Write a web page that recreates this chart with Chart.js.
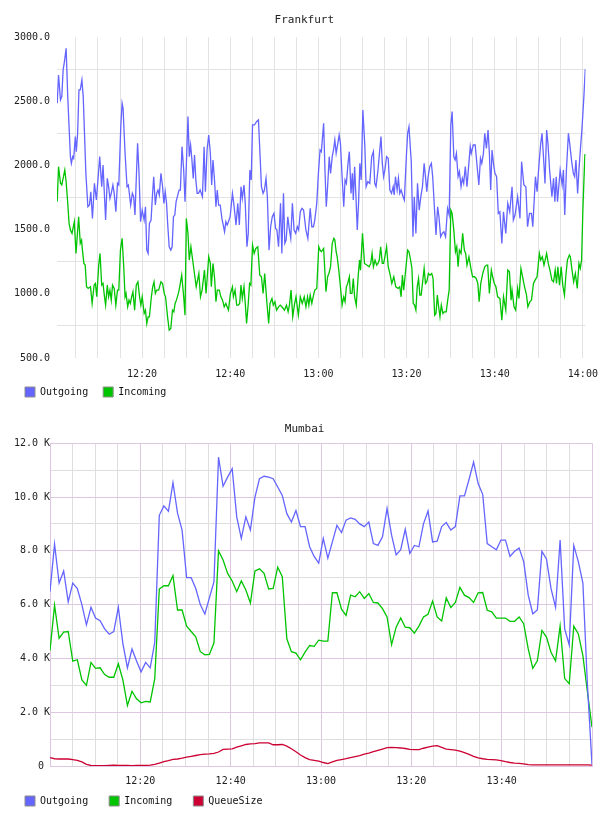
<!DOCTYPE html>
<html><head><meta charset="utf-8">
<script src="https://cdn.jsdelivr.net/npm/chart.js@4/dist/chart.umd.min.js"></script>
<style>
html,body{margin:0;padding:0;background:#fff;}
#w1{position:absolute;left:0;top:0;width:608px;height:407px;}
#w2{position:absolute;left:0;top:407px;width:608px;height:409px;}
</style></head><body>
<div id="w1"><canvas id="c1"></canvas></div>
<div id="w2"><canvas id="c2"></canvas></div>
<script>
// ---- Frankfurt: [minutes after 12:00, value]
const frankfurtOutgoing = [[0.75,2485],[1.05,2706],[1.49,2511],[1.79,2537],[2.09,2745],[2.39,2810],[2.77,2914],[3.14,2537],[3.74,2069],[3.96,2017],[4.26,2069],[4.48,2056],[4.86,2225],[5.08,2108],[5.38,2251],[5.68,2589],[5.98,2589],[6.35,2667],[6.65,2537],[7.25,1939],[7.70,1679],[8.07,1692],[8.37,1796],[8.74,1588],[9.19,1861],[9.64,1731],[10.39,2069],[10.84,1835],[11.14,2004],[11.73,1575],[12.11,1900],[12.41,1835],[12.71,1744],[13.01,1783],[13.38,1848],[13.68,1783],[14.05,1640],[14.42,1861],[14.72,1848],[15.17,2303],[15.47,2485],[15.69,2446],[16.14,2095],[16.59,1835],[16.89,1848],[17.41,1692],[17.79,1783],[18.09,1757],[18.39,1614],[18.98,2173],[19.28,1965],[19.66,1562],[20.03,1653],
[20.47,1575],[20.77,1679],[21.07,1341],[21.37,1315],[21.66,1549],[22.04,1575],[22.34,1757],[22.64,1913],[23.01,1692],[23.31,1783],[23.61,1809],[23.91,1770],[24.28,1939],[24.65,1835],[24.95,1705],[25.25,1796],[25.55,1705],[25.85,1523],[26.15,1367],[26.52,1341],[26.82,1367],[27.12,1601],[27.42,1614],[27.72,1718],[28.01,1757],[28.39,1809],[28.69,1809],[29.06,2147],[29.44,1965],[29.74,1718],[30.11,2069],[30.41,2381],[30.71,2069],[31.01,2160],[31.31,2043],[31.61,1900],[31.90,2082],[32.20,1887],[32.50,1783],[32.80,1783],[33.17,1809],[33.70,1757],[34.07,2147],[34.37,1796],[34.74,2121],[35.12,2238],[35.49,2095],[35.79,1848],[36.09,2043],[36.46,1874],[36.76,1679],[37.06,1809],[37.36,1692],[37.73,1692],[38.11,1588],[38.71,1484],[39.01,1562],[39.30,1536],[39.60,1562],[39.98,1601],[40.50,1783],
[40.80,1705],[41.32,1536],[41.70,1705],[42.07,1536],[42.44,1835],[42.74,1744],[43.12,1848],[43.41,1705],[43.79,1367],[44.09,1471],[44.46,1965],[44.76,1887],[45.06,2316],[45.51,2316],[45.96,2342],[46.40,2355],[46.78,2069],[47.08,1835],[47.45,1783],[47.75,1809],[48.12,1900],[48.42,1757],[48.80,1341],[49.17,1523],[49.54,1601],[49.92,1627],[50.29,1510],[50.59,1497],[50.96,1367],[51.41,1705],[51.71,1315],[52.08,1783],[52.38,1393],[52.68,1419],[53.06,1601],[53.43,1497],[53.73,1432],[54.10,1705],[54.48,1497],[54.85,1471],[55.22,1523],[55.52,1497],[55.90,1640],[56.27,1666],[56.64,1653],[57.17,1497],[57.61,1432],[58.14,1666],[58.51,1523],[58.88,1523],[59.18,1575],[59.63,1705],[60.00,1939],[60.38,2121],[60.67,2108],
[61.19,2329],[61.49,1965],[61.79,1679],[62.09,1835],[62.46,2069],[62.76,1939],[63.14,2069],[63.43,2121],[63.73,2199],[64.03,2095],[64.41,2173],[64.71,2238],[65.00,2173],[65.38,1913],[65.75,1679],[66.05,1887],[66.35,1861],[66.72,2017],[67.02,2108],[67.40,1783],[67.70,1939],[67.92,1731],[68.22,1991],[68.52,1757],[68.82,1497],[69.11,1705],[69.41,2017],[69.71,1887],[70.09,2433],[70.54,2147],[70.83,1835],[71.21,1874],[71.66,1861],[72.10,2069],[72.48,2108],[72.78,1861],[73.08,1835],[73.52,1965],[73.82,2082],[74.20,2225],[74.50,2017],[74.80,1913],[75.09,1965],[75.47,2069],[75.84,2056],[76.21,1809],[76.59,1783],[76.96,1835],[77.19,1770],[77.49,1913],[77.86,1809],[78.16,1900],[78.46,1783],[78.76,1809],[79.21,1757],[79.50,1731],[79.95,2069],[80.25,2251],[80.55,2303],
[81.07,2030],[81.45,1445],[81.75,1757],[82.12,1471],[82.49,1861],[82.87,1653],[83.24,1757],[83.61,1835],[83.99,2017],[84.29,1913],[84.59,1796],[84.89,1913],[85.26,1991],[85.63,2017],[85.93,1913],[86.31,1679],[86.68,1458],[87.05,1679],[87.35,1601],[87.73,1445],[88.10,1471],[88.47,1484],[88.85,1445],[89.30,1666],[89.67,1614],[90.04,2316],[90.34,2420],[90.72,2069],[91.01,2043],[91.31,2095],[91.69,1913],[91.99,1952],[92.36,1835],[92.66,1900],[92.96,1861],[93.33,1991],[93.71,1835],[94.08,1991],[94.45,2147],[94.68,2095],[95.13,2160],[95.57,2160],[96.40,1848],[96.77,2056],[97.07,2017],[97.44,2095],[97.74,2251],[98.12,2134],[98.49,2277],[98.79,2095],[99.09,1809],[99.39,2121],[99.76,2004],[100.06,1939],[100.43,1913],[100.81,1627],
[101.17,1640],[101.62,1393],[101.99,1640],[102.51,1471],[102.96,1705],[103.41,1640],[103.93,1835],[104.23,1575],[104.61,1614],[105.20,1757],[105.73,1588],[106.10,2030],[106.62,1848],[107.07,1835],[107.45,1523],[107.89,1627],[108.34,1627],[108.64,1523],[109.24,1913],[109.61,1796],[110.06,2017],[110.44,2173],[110.73,2251],[111.11,2043],[111.41,1861],[111.78,2277],[112.08,2173],[112.45,1965],[112.98,1757],[113.35,1900],[113.65,1718],[113.95,1913],[114.25,1718],[114.85,1965],[115.30,1848],[115.59,1965],[115.89,1614],[116.27,1965],[116.72,2251],[117.01,2173],[117.46,2030],[117.84,1939],[118.14,1913],[118.43,2043],[118.81,1783],[119.11,1965],[119.48,2147],[119.78,2277],[120.23,2537],[120.53,2745],[120.75,2745]];

const frankfurtIncoming = [[0.75,1718],[1.05,1991],[1.49,1861],[1.79,1848],[2.09,1900],[2.47,1965],[2.77,1874],[3.14,1705],[3.44,1549],[3.74,1497],[4.11,1471],[4.63,1562],[5.01,1315],[5.61,1601],[5.98,1393],[6.28,1419],[6.43,1354],[6.80,1237],[7.10,1224],[7.40,1055],[7.77,1042],[8.30,1055],[8.67,925],[9.12,1068],[9.42,1081],[9.72,977],[10.17,1224],[10.46,1315],[10.84,1068],[11.14,1081],[11.43,990],[11.73,912],[12.11,1068],[12.41,977],[12.71,1029],[13.01,951],[13.30,1068],[13.68,1042],[14.05,912],[14.42,1029],[14.72,1029],[15.09,1341],[15.47,1432],[15.84,1211],[16.14,977],[16.36,1003],[16.74,899],[17.04,951],[17.33,925],[17.63,977],[17.93,1016],[18.31,873],[18.68,1068],[19.06,1094],[19.43,977],[19.73,912],[20.03,977],
[20.47,847],[20.77,873],[21.07,769],[21.37,821],[21.66,821],[22.11,977],[22.41,1055],[22.71,1094],[23.01,1003],[23.31,1029],[23.76,1029],[24.28,1094],[24.65,1081],[25.03,1003],[25.33,977],[25.78,821],[26.15,717],[26.52,730],[26.90,873],[27.20,860],[27.49,925],[27.79,951],[28.24,1003],[28.54,1055],[28.99,1146],[29.44,977],[29.74,834],[30.04,1588],[30.41,1471],[30.71,1263],[31.08,1367],[31.38,1289],[31.68,1211],[32.28,1055],[32.88,1159],[33.25,977],[33.62,1029],[34.15,1185],[34.52,1003],[35.12,1289],[35.49,1237],[35.71,1055],[36.09,1237],[36.46,1120],[36.76,938],[37.06,1029],[37.51,1029],[37.88,977],[38.26,951],[38.63,899],[39.00,925],[39.60,873],[40.05,1003],[40.50,1055],
[40.72,977],[41.10,1029],[41.47,912],[41.84,912],[42.14,925],[42.44,1068],[42.74,964],[43.12,1055],[43.41,925],[43.71,769],[44.09,925],[44.39,1081],[44.68,1068],[45.06,1380],[45.43,1315],[45.81,1354],[46.25,1367],[46.70,1146],[47.08,1133],[47.45,1003],[47.82,1159],[48.27,951],[48.72,769],[49.02,925],[49.47,964],[49.77,912],[50.14,938],[50.51,873],[50.96,899],[51.34,912],[51.71,899],[52.31,873],[52.76,912],[53.13,860],[53.43,912],[53.80,1029],[54.18,821],[54.55,912],[54.92,977],[55.45,834],[55.90,977],[56.34,925],[56.79,977],[57.17,899],[57.54,977],[57.84,912],[58.14,990],[58.51,925],[58.81,977],[59.18,1029],[59.63,1042],[60.08,1367],[60.38,1341],[60.68,1328],
[61.19,1354],[61.72,1016],[62.09,1133],[62.39,1159],[62.76,1211],[63.14,1393],[63.51,1432],[63.73,1419],[64.03,1328],[64.26,1289],[64.63,1185],[65.00,1055],[65.38,912],[65.75,977],[66.05,938],[66.35,1055],[66.65,1081],[67.02,1133],[67.25,1003],[67.62,1003],[67.92,1120],[68.22,977],[68.59,912],[69.04,1146],[69.34,1263],[69.56,1185],[70.01,1471],[70.46,1237],[70.98,1224],[71.51,1211],[71.88,1237],[72.18,1315],[72.48,1211],[72.85,1263],[73.23,1224],[73.52,1237],[73.82,1263],[74.12,1367],[74.50,1237],[74.80,1237],[75.09,1289],[75.47,1367],[75.84,1211],[76.21,1159],[76.66,1081],[77.11,1133],[77.56,1055],[78.08,1042],[78.46,1055],[78.76,977],[79.06,1146],[79.35,1029],[79.65,1133],[79.95,1237],[80.25,1341],[80.55,1328],[80.85,1276],
[81.22,1198],[81.52,925],[81.82,912],[82.12,873],[82.42,1055],[82.72,1120],[83.02,990],[83.32,990],[83.69,1107],[83.99,1198],[84.29,1081],[84.59,1094],[84.96,1159],[85.33,1146],[85.71,1159],[86.01,1120],[86.38,834],[86.68,847],[86.98,990],[87.28,899],[87.58,821],[87.88,912],[88.25,847],[88.55,860],[89.00,860],[89.44,977],[89.67,1029],[90.04,1653],[90.34,1627],[90.72,1497],[91.09,1328],[91.39,1367],[91.69,1211],[91.99,1341],[92.36,1315],[92.73,1471],[93.11,1341],[93.41,1315],[93.71,1224],[94.15,1289],[94.60,1198],[94.98,1133],[95.42,1133],[95.80,1120],[96.17,1081],[96.47,938],[96.84,1081],[97.29,1159],[97.74,1211],[98.12,1224],[98.41,1224],[98.79,1003],[99.23,1185],[99.53,1133],[99.91,1081],[100.28,1055],[100.66,977],
[101.17,964],[101.62,795],[101.99,977],[102.51,873],[102.96,1185],[103.34,1172],[103.71,951],[103.93,1029],[104.38,899],[104.76,873],[105.20,1042],[105.50,964],[105.95,1198],[106.33,1133],[106.77,1055],[107.22,990],[107.52,899],[107.97,938],[108.34,951],[108.79,1081],[109.16,1107],[109.61,1133],[110.13,1315],[110.43,1263],[110.81,1289],[111.18,1224],[111.78,1315],[112.15,1237],[112.53,1185],[112.98,1107],[113.35,1094],[113.72,1185],[114.02,1081],[114.32,1211],[114.70,1068],[115.07,1211],[115.44,1068],[115.82,990],[116.12,1133],[116.49,1263],[116.94,1302],[117.16,1289],[117.54,1185],[117.91,1094],[118.29,1159],[118.73,1042],[119.11,1237],[119.41,1198],[119.71,1263],[120.00,1653],[120.45,2082],[120.75,2082]];

// ---- Mumbai: one sample per minute-ish, 12:00 -> 14:00
const mumbaiOutgoing = [6480,8250,6800,7250,6100,6800,6600,6000,5250,5900,
5500,5400,5100,4900,5000,5900,4550,3650,4350,3900,
3500,3850,3650,4600,9320,9670,9470,10530,9400,8770,
7000,7000,6600,6000,5650,6250,6850,11480,10400,10740,
11050,9260,8460,9260,8770,10000,10680,10770,10740,10680,
10370,10060,9380,9070,9500,8900,8900,8150,7790,7540,
8460,7730,8330,8950,8680,9140,9220,9170,9000,8900,
9070,8270,8200,8520,9570,8580,7850,8040,8800,7900,
8200,8150,9000,9480,8330,8360,8900,9050,8770,8900,
10040,10040,10650,11300,10500,10100,8270,8150,8040,8400,
8400,7790,7980,8100,7600,6350,5660,5800,7980,7700,
6600,5900,8400,5100,4500,8200,7600,6800,3000,50];
const mumbaiIncoming = [4290,5980,4750,4980,5000,3900,3950,3200,3000,3850,
3630,3650,3400,3300,3300,3800,3200,2250,2780,2500,
2350,2400,2380,3250,6580,6700,6700,7080,5800,5800,
5200,5000,4800,4250,4130,4150,4580,8000,7660,7160,
6880,6480,6880,6540,6060,7250,7330,7160,6580,6600,
7390,7040,4730,4250,4200,3950,4230,4480,4450,4680,
4640,4640,6440,6440,5830,5600,6350,6290,6480,6230,
6410,6080,6060,5850,5540,4510,5160,5500,5160,5140,
4940,5200,5540,5640,6130,5540,5390,6250,5890,6080,
6640,6350,6260,6080,6440,6450,5790,5730,5500,5500,
5500,5380,5380,5540,5290,4350,3630,3910,5040,4790,
4230,3910,5200,3250,3060,5200,4910,4100,2750,1440];
const mumbaiQueueSize = [310,270,260,260,260,240,210,150,60,20,
10,10,10,20,30,20,20,20,10,20,
20,20,30,60,110,160,200,250,260,290,
330,360,390,420,440,450,470,520,620,630,
640,700,750,800,820,830,860,860,860,790,
790,800,740,640,530,410,310,240,210,180,
130,90,150,210,240,270,310,350,390,440,
480,530,580,630,680,690,680,670,650,620,
610,610,660,700,740,760,690,630,610,590,
550,500,430,360,300,270,250,240,230,200,
160,130,110,100,80,50,40,40,40,40,
40,40,40,40,40,40,40,40,40,30];
const mumbaiMinutes = mumbaiOutgoing.map((_, i) => i * 120 / (mumbaiOutgoing.length - 1));

// ---- axis ticks / labels
const gridMinutes = [5,10,15,20,25,30,35,40,45,50,55,60,65,70,75,80,85,90,95,100,105,110,115,120];
const frankfurtTimeTicks = [20,40,60,80,100,120];
const frankfurtTimeLabels = ['12:20','12:40','13:00','13:20','13:40','14:00'];
const mumbaiTimeTicks = [20,40,60,80,100];
const mumbaiTimeLabels = ['12:20','12:40','13:00','13:20','13:40'];

const BLUE = '#6464ff', GREEN = '#00c400', RED = '#cc0033';
const GRID = '#e3e3e3', MAJOR = '#dcc6e0', MINOR = '#dedede';
const FONT = "'DejaVu Sans Mono', monospace";
Chart.defaults.font.family = FONT;
Chart.defaults.font.size = 10;
Chart.defaults.color = '#222';

function legendLabels(chart) {
  return chart.data.datasets.map((ds, i) => ({
    text: ds.label, fillStyle: ds.borderColor, strokeStyle: '#8c8c8c', lineWidth: 1,
    hidden: false, datasetIndex: i, fontColor: '#111'
  }));
}
const pairs = arr => arr.map(([x, y]) => ({x, y}));
const line = (label, data, color) => ({label, data, borderColor: color, backgroundColor: color,
  borderWidth: 1.3, pointRadius: 0, tension: 0, fill: false});
// let x tick labels draw below the (thin) axis box without being clipped
const noLabelClip = h => s => { s.height = h; s._computeLabelArea = () => null; };

new Chart(document.getElementById('c1'), {
  type: 'line',
  data: {datasets: [
    line('Outgoing', pairs(frankfurtOutgoing), BLUE),
    line('Incoming', pairs(frankfurtIncoming), GREEN)
  ]},
  options: {
    responsive: true, maintainAspectRatio: false, animation: false, devicePixelRatio: 1,
    layout: {padding: {left: 10, right: 16, top: 0, bottom: 0}},
    plugins: {
      title: {display: true, text: ' Frankfurt', color: '#222', font: {size: 11, weight: 'normal'}, padding: {top: 14, bottom: 10}},
      legend: {position: 'bottom', align: 'start', labels: {boxWidth: 10, boxHeight: 10, padding: 15, color: '#111', generateLabels: legendLabels}},
      tooltip: {enabled: false}
    },
    scales: {
      x: {type: 'linear', min: 0.7, max: 120.6,
        afterBuildTicks: s => { s.ticks = gridMinutes.map(v => ({value: v})); },
        afterFit: noLabelClip(14),
        grid: {color: GRID, drawTicks: false}, border: {display: false},
        ticks: {padding: 10, maxRotation: 0, autoSkip: false,
          callback: v => { const i = frankfurtTimeTicks.indexOf(v); return i >= 0 ? frankfurtTimeLabels[i] : ''; }}},
      y: {min: 500, max: 3000,
        afterFit: s => { s.width = 47; },
        grid: {drawTicks: false, color: c => (c.tick && c.tick.value % 500 === 250) ? GRID : 'rgba(0,0,0,0)'},
        border: {display: false},
        ticks: {stepSize: 250, padding: 7, autoSkip: false,
          callback: v => v % 500 === 0 ? v.toFixed(1) : ''}}
    }
  }
});

const m = arr => arr.map((y, i) => ({x: mumbaiMinutes[i], y}));
new Chart(document.getElementById('c2'), {
  type: 'line',
  data: {datasets: [
    line('Outgoing', m(mumbaiOutgoing), BLUE),
    line('Incoming', m(mumbaiIncoming), GREEN),
    line('QueueSize', m(mumbaiQueueSize), RED)
  ]},
  options: {
    responsive: true, maintainAspectRatio: false, animation: false, devicePixelRatio: 1,
    layout: {padding: {left: 4, right: 16, top: 0, bottom: 0}},
    plugins: {
      title: {display: true, text: '  Mumbai', color: '#222', font: {size: 11, weight: 'normal'}, padding: {top: 16, bottom: 7}},
      legend: {position: 'bottom', align: 'start', labels: {boxWidth: 10, boxHeight: 10, padding: 21, color: '#111', generateLabels: legendLabels}},
      tooltip: {enabled: false}
    },
    scales: {
      x: {type: 'linear', min: 0, max: 120,
        afterBuildTicks: s => { s.ticks = gridMinutes.map(v => ({value: v})); },
        afterFit: noLabelClip(9),
        grid: {drawTicks: false, color: c => (c.tick && c.tick.value % 20 === 0) ? MAJOR : MINOR},
        border: {display: true, color: MAJOR},
        ticks: {padding: 9, maxRotation: 0, autoSkip: false,
          callback: v => { const i = mumbaiTimeTicks.indexOf(v); return i >= 0 ? mumbaiTimeLabels[i] : ''; }}},
      y: {min: 0, max: 12000,
        afterFit: s => { s.width = 46; },
        grid: {drawTicks: false, color: c => (c.tick && c.tick.value % 2000 === 0) ? MAJOR : MINOR},
        border: {display: true, color: MAJOR},
        ticks: {stepSize: 1000, padding: 0, autoSkip: false,
          callback: v => v === 0 ? '0 ' : (v % 2000 === 0 ? (v / 1000).toFixed(1) + ' K' : '')}}
    }
  }
});
</script>
</body></html>
